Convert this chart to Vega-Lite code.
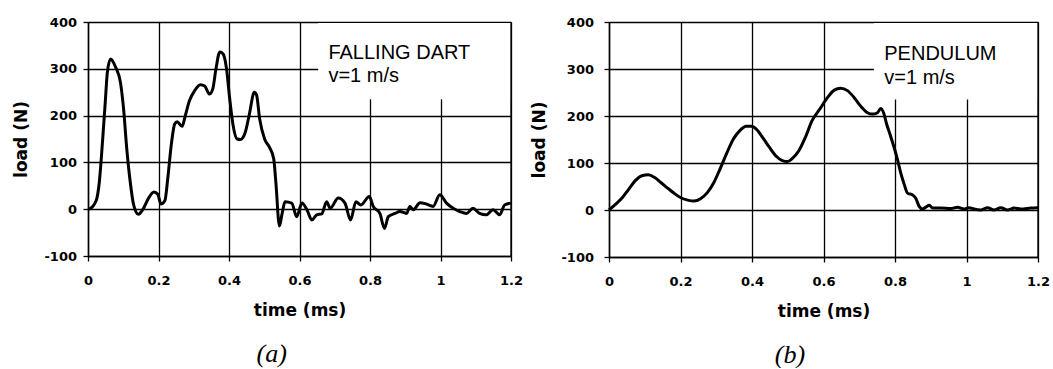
{
  "$schema": "https://vega.github.io/schema/vega-lite/v6.json",
  "padding": {"left": 12, "top": 16, "right": 0, "bottom": 0},
  "spacing": 7,
  "background": "white",
  "config": {
    "view": {"stroke": null},
    "font": "DejaVu Sans",
    "axis": {
      "domainColor": "black", "domainWidth": 1.5,
      "tickColor": "black", "tickWidth": 1.3, "tickSize": 5,
      "gridColor": "black", "gridWidth": 1.3, "gridOpacity": 1,
      "labelFont": "DejaVu Sans", "labelFontWeight": "bold", "labelFontSize": 13, "labelColor": "black",
      "titleFont": "DejaVu Sans", "titleFontWeight": "bold", "titleFontSize": 17, "titleColor": "black",
      "labelFlush": false, "labelOverlap": false
    }
  },
  "datasets": {
    "dart": [
      {"t":0,"load":0},{"t":0.005,"load":1},{"t":0.023,"load":18},{"t":0.032,"load":57},{"t":0.041,"load":143},{"t":0.049,"load":229},{"t":0.055,"load":293},{"t":0.064,"load":321},{"t":0.078,"load":304},{"t":0.092,"load":271},{"t":0.101,"load":214},{"t":0.110,"load":129},{"t":0.120,"load":57},{"t":0.129,"load":11},{"t":0.143,"load":-11},{"t":0.156,"load":0},{"t":0.170,"load":21},{"t":0.187,"load":37},{"t":0.198,"load":32},{"t":0.207,"load":11},{"t":0.218,"load":18},{"t":0.227,"load":71},{"t":0.236,"load":136},{"t":0.246,"load":182},{"t":0.253,"load":187},{"t":0.267,"load":177},{"t":0.276,"load":200},{"t":0.288,"load":232},{"t":0.303,"load":254},{"t":0.319,"load":266},{"t":0.331,"load":263},{"t":0.345,"load":246},{"t":0.354,"load":257},{"t":0.363,"load":300},{"t":0.374,"load":336},{"t":0.383,"load":332},{"t":0.393,"load":300},{"t":0.402,"load":236},{"t":0.411,"load":182},{"t":0.423,"load":150},{"t":0.432,"load":149},{"t":0.446,"load":164},{"t":0.457,"load":200},{"t":0.472,"load":250},{"t":0.478,"load":245},{"t":0.487,"load":193},{"t":0.501,"load":150},{"t":0.515,"load":132},{"t":0.527,"load":107},{"t":0.533,"load":57},{"t":0.543,"load":-36},{"t":0.551,"load":-8},{"t":0.559,"load":16},{"t":0.578,"load":13},{"t":0.592,"load":-16},{"t":0.607,"load":13},{"t":0.621,"load":-1},{"t":0.635,"load":-23},{"t":0.649,"load":-12},{"t":0.663,"load":-10},{"t":0.677,"load":16},{"t":0.687,"load":2},{"t":0.710,"load":24},{"t":0.729,"load":13},{"t":0.745,"load":-23},{"t":0.760,"load":16},{"t":0.774,"load":9},{"t":0.798,"load":27},{"t":0.809,"load":6},{"t":0.828,"load":-9},{"t":0.841,"load":-41},{"t":0.852,"load":-16},{"t":0.871,"load":-9},{"t":0.885,"load":-5},{"t":0.904,"load":-9},{"t":0.913,"load":6},{"t":0.923,"load":-1},{"t":0.942,"load":14},{"t":0.960,"load":11},{"t":0.979,"load":6},{"t":0.998,"load":31},{"t":1.017,"load":13},{"t":1.036,"load":2},{"t":1.055,"load":-5},{"t":1.074,"load":-9},{"t":1.092,"load":2},{"t":1.111,"load":-9},{"t":1.130,"load":-12},{"t":1.149,"load":-1},{"t":1.168,"load":-12},{"t":1.182,"load":9},{"t":1.2,"load":13}
    ],
    "pend": [
      {"t":0,"load":0},{"t":0.018,"load":12},{"t":0.037,"load":26},{"t":0.055,"load":44},{"t":0.073,"load":62},{"t":0.092,"load":73},{"t":0.110,"load":75},{"t":0.128,"load":69},{"t":0.146,"load":58},{"t":0.165,"load":46},{"t":0.183,"load":35},{"t":0.201,"load":26},{"t":0.220,"load":21},{"t":0.238,"load":19},{"t":0.256,"load":24},{"t":0.275,"load":37},{"t":0.293,"load":58},{"t":0.311,"load":88},{"t":0.330,"load":122},{"t":0.348,"load":151},{"t":0.366,"load":169},{"t":0.384,"load":178},{"t":0.398,"load":178},{"t":0.412,"load":172},{"t":0.430,"load":154},{"t":0.449,"load":133},{"t":0.467,"load":115},{"t":0.485,"load":105},{"t":0.499,"load":103},{"t":0.513,"load":110},{"t":0.531,"load":126},{"t":0.549,"load":154},{"t":0.568,"load":190},{"t":0.590,"load":215},{"t":0.611,"load":239},{"t":0.630,"load":255},{"t":0.648,"load":259},{"t":0.667,"load":254},{"t":0.686,"load":239},{"t":0.704,"load":221},{"t":0.723,"load":207},{"t":0.737,"load":204},{"t":0.751,"load":207},{"t":0.760,"load":216},{"t":0.768,"load":207},{"t":0.777,"load":182},{"t":0.786,"load":161},{"t":0.798,"load":132},{"t":0.807,"load":107},{"t":0.816,"load":79},{"t":0.826,"load":54},{"t":0.835,"load":36},{"t":0.849,"load":32},{"t":0.858,"load":25},{"t":0.868,"load":7},{"t":0.877,"load":2},{"t":0.886,"load":6},{"t":0.896,"load":10},{"t":0.905,"load":4},{"t":0.928,"load":4},{"t":0.956,"load":3},{"t":0.975,"load":6},{"t":0.993,"load":2},{"t":1.007,"load":5},{"t":1.021,"load":2},{"t":1.040,"load":0},{"t":1.059,"load":5},{"t":1.077,"load":0},{"t":1.096,"load":5},{"t":1.115,"load":0},{"t":1.133,"load":4},{"t":1.152,"load":2},{"t":1.180,"load":4},{"t":1.2,"load":5}
    ],
    "notesA": [
      {"t":0.682,"load":321,"label":"FALLING DART"},
      {"t":0.682,"load":271,"label":"v=1 m/s"}
    ],
    "notesB": [
      {"t":0.77,"load":319,"label":"PENDULUM"},
      {"t":0.77,"load":269,"label":"v=1 m/s"}
    ]
  },
  "hconcat": [
    {
      "width": 423, "height": 234,
      "title": {"text": "(a)", "orient": "bottom", "anchor": "middle", "frame": "bounds", "font": "Liberation Serif", "fontStyle": "italic", "fontWeight": "normal", "fontSize": 26, "color": "black", "offset": 23, "dx": 4},
      "layer": [
        {
          "data": {"name": "dart"},
          "mark": {"type": "line", "color": "black", "strokeWidth": 3, "interpolate": "monotone"},
          "encoding": {
            "x": {"field": "t", "type": "quantitative", "scale": {"domain": [0, 1.2], "nice": false, "zero": false},
                  "axis": {"values": [0, 0.2, 0.4, 0.6, 0.8, 1, 1.2], "labelExpr": "toString(datum.value)", "title": "time (ms)", "labelPadding": 13, "titlePadding": 15}},
            "y": {"field": "load", "type": "quantitative", "scale": {"domain": [-100, 400], "nice": false, "zero": false},
                  "axis": {"values": [-100, 0, 100, 200, 300, 400], "labelExpr": "toString(datum.value)", "title": "load (N)", "labelPadding": 6.5, "titlePadding": 13}}
          }
        },
        {
          "data": {"values": [{}]},
          "mark": {"type": "rect", "fill": "white", "stroke": null},
          "encoding": {
            "x": {"datum": 0.653, "type": "quantitative"},
            "x2": {"datum": 1.2},
            "y": {"datum": 235, "type": "quantitative"},
            "y2": {"datum": 398}
          }
        },
        {
          "data": {"values": [{}]},
          "mark": {"type": "rule", "color": "black", "strokeWidth": 1.3},
          "encoding": {"x": {"datum": 1.2, "type": "quantitative"}}
        },
        {
          "data": {"name": "notesA"},
          "mark": {"type": "text", "align": "left", "baseline": "alphabetic", "font": "Liberation Sans", "fontSize": 20, "color": "black"},
          "encoding": {
            "x": {"field": "t", "type": "quantitative"},
            "y": {"field": "load", "type": "quantitative"},
            "text": {"field": "label"}
          }
        }
      ]
    },
    {
      "width": 429, "height": 235,
      "title": {"text": "(b)", "orient": "bottom", "anchor": "middle", "frame": "bounds", "font": "Liberation Serif", "fontStyle": "italic", "fontWeight": "normal", "fontSize": 26, "color": "black", "offset": 23},
      "layer": [
        {
          "data": {"name": "pend"},
          "mark": {"type": "line", "color": "black", "strokeWidth": 3, "interpolate": "monotone"},
          "encoding": {
            "x": {"field": "t", "type": "quantitative", "scale": {"domain": [0, 1.2], "nice": false, "zero": false},
                  "axis": {"values": [0, 0.2, 0.4, 0.6, 0.8, 1, 1.2], "labelExpr": "toString(datum.value)", "title": "time (ms)", "labelPadding": 13, "titlePadding": 15}},
            "y": {"field": "load", "type": "quantitative", "scale": {"domain": [-100, 400], "nice": false, "zero": false},
                  "axis": {"values": [-100, 0, 100, 200, 300, 400], "labelExpr": "toString(datum.value)", "title": "load (N)", "labelPadding": 10.5, "titlePadding": 12.5}}
          }
        },
        {
          "data": {"values": [{}]},
          "mark": {"type": "rect", "fill": "white", "stroke": null},
          "encoding": {
            "x": {"datum": 0.741, "type": "quantitative"},
            "x2": {"datum": 1.2},
            "y": {"datum": 235, "type": "quantitative"},
            "y2": {"datum": 398}
          }
        },
        {
          "data": {"values": [{}]},
          "mark": {"type": "rule", "color": "black", "strokeWidth": 1.3},
          "encoding": {"x": {"datum": 1.2, "type": "quantitative"}}
        },
        {
          "data": {"name": "notesB"},
          "mark": {"type": "text", "align": "left", "baseline": "alphabetic", "font": "Liberation Sans", "fontSize": 20, "color": "black"},
          "encoding": {
            "x": {"field": "t", "type": "quantitative"},
            "y": {"field": "load", "type": "quantitative"},
            "text": {"field": "label"}
          }
        }
      ]
    }
  ]
}
